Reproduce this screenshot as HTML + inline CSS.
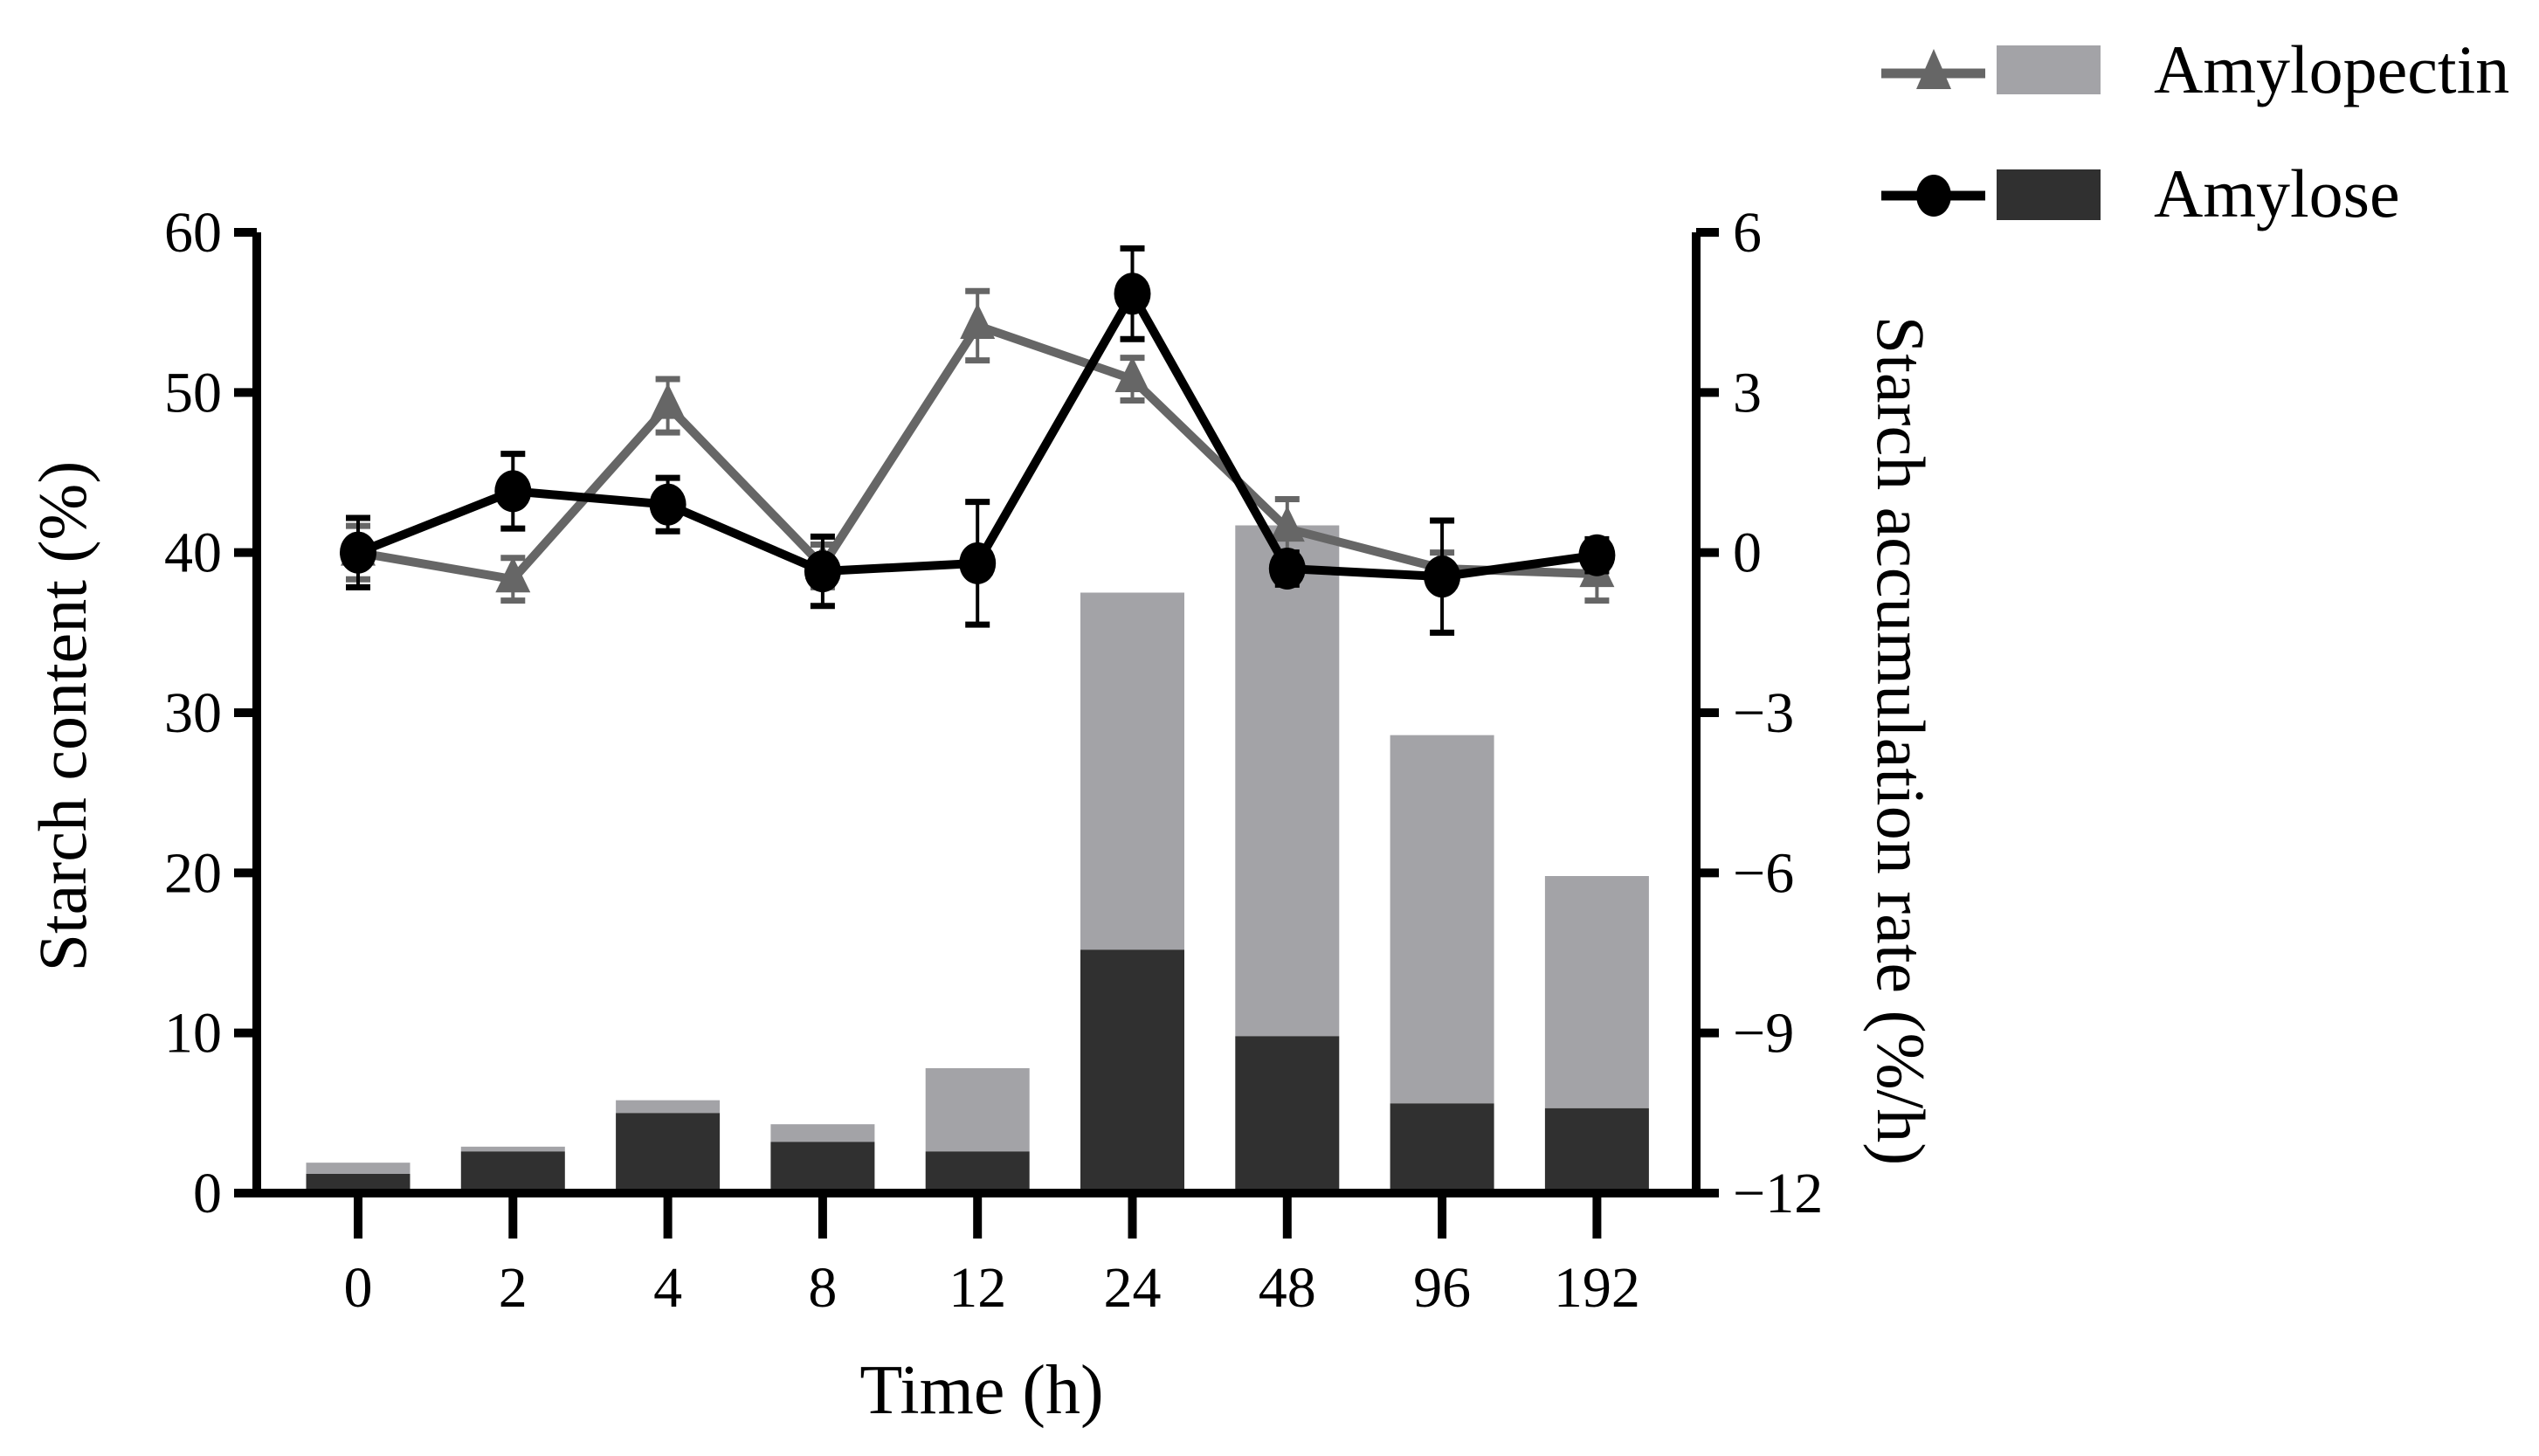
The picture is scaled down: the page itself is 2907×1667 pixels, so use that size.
<!DOCTYPE html>
<html><head><meta charset="utf-8"><style>
html,body{margin:0;padding:0;background:#fff;}
svg{display:block;}
text{font-family:"Liberation Serif",serif;fill:#000;}
</style></head><body>
<svg id="chart" xmlns="http://www.w3.org/2000/svg" width="2907" height="1667" viewBox="0 0 2907 1667"></svg>
<script>
const categories = ["0","2","4","8","12","24","48","96","192"];
const amyloseContent = [1.2, 2.6, 5.0, 3.2, 2.6, 15.2, 9.8, 5.6, 5.3];
const totalContent = [1.9, 2.9, 5.8, 4.3, 7.8, 37.5, 41.7, 28.6, 19.8];
const amylopectinRate = [0, -0.5, 2.75, -0.25, 4.25, 3.25, 0.45, -0.3, -0.4];
const amylopectinErr = [0.5, 0.4, 0.5, 0.4, 0.65, 0.4, 0.55, 0.3, 0.5];
const amyloseRate = [0, 1.15, 0.9, -0.35, -0.2, 4.85, -0.3, -0.45, -0.05];
const amyloseErr = [0.65, 0.7, 0.5, 0.65, 1.15, 0.85, 0.3, 1.05, 0.3];
const leftTicks = [0,10,20,30,40,50,60];
const rightTicks = [-12,-9,-6,-3,0,3,6];
const rightTickLabels = ["\u221212","\u22129","\u22126","\u22123","0","3","6"];

const svg = document.getElementById('chart');
const NS = 'http://www.w3.org/2000/svg';
const X0 = 294, X1 = 1942, YB = 1366, YT = 266;
const yL = v => YB - (v/60)*(YB-YT);
const yR = v => YB - ((v+12)/18)*(YB-YT);
const xC = i => 410 + i*177.3;
const BW = 119;
function mk(tag, attrs, parent){const e=document.createElementNS(NS,tag);for(const k in attrs)e.setAttribute(k,attrs[k]);(parent||svg).appendChild(e);return e;}

categories.forEach((c,i)=>{
  const b1 = mk('rect',{x:xC(i)-BW/2,y:yL(totalContent[i]),width:BW,height:yL(amyloseContent[i])-yL(totalContent[i]),fill:'#a3a3a7'});
  
  
  const b2 = mk('rect',{x:xC(i)-BW/2,y:yL(amyloseContent[i]),width:BW,height:YB-yL(amyloseContent[i]),fill:'#303030'});
  
  
});

const ax = mk('path',{d:`M${X0} ${YT}V${YB}H${X1}V${YT}`,fill:'none',stroke:'#000','stroke-width':10});


leftTicks.forEach(v=>{
  mk('line',{x1:X0-26,x2:X0,y1:yL(v),y2:yL(v),stroke:'#000','stroke-width':10});
  const t=mk('text',{x:X0-40,y:yL(v)+22,'text-anchor':'end','font-size':66});
  t.textContent=v;
  
  
});
rightTicks.forEach((v,i)=>{
  mk('line',{x1:X1,x2:X1+26,y1:yR(v),y2:yR(v),stroke:'#000','stroke-width':10});
  const t=mk('text',{x:X1+42,y:yR(v)+22,'text-anchor':'start','font-size':66});
  t.textContent=rightTickLabels[i];
  
  
});
categories.forEach((c,i)=>{
  mk('line',{x1:xC(i),x2:xC(i),y1:YB,y2:YB+52,stroke:'#000','stroke-width':10});
  const t=mk('text',{x:xC(i),y:1496,'text-anchor':'middle','font-size':66});
  t.textContent=c;
  
  
});

function series(vals, errs, color, width, marker, name){
  const g=mk('g',{});
  
  
  vals.forEach((v,i)=>{
    const cx=xC(i), y1=yR(v+errs[i]), y2=yR(v-errs[i]);
    mk('line',{x1:cx,x2:cx,y1:y1,y2:y2,stroke:color,'stroke-width':4},g);
    mk('line',{x1:cx-14,x2:cx+14,y1:y1,y2:y1,stroke:color,'stroke-width':7},g);
    mk('line',{x1:cx-14,x2:cx+14,y1:y2,y2:y2,stroke:color,'stroke-width':7},g);
  });
  mk('polyline',{points:vals.map((v,i)=>xC(i)+','+yR(v)).join(' '),fill:'none',stroke:color,'stroke-width':width,'stroke-linejoin':'round'},g);
  vals.forEach((v,i)=>{
    const cx=xC(i), cy=yR(v);
    let m;
    if(marker==='tri') m=mk('polygon',{points:`${cx},${cy-26} ${cx-20},${cy+15} ${cx+20},${cy+15}`,fill:color},g);
    else m=mk('ellipse',{cx:cx,cy:cy,rx:21,ry:24,fill:color},g);
    
    
  });
}
series(amylopectinRate, amylopectinErr, '#666666', 10, 'tri', 'amylopectin');
series(amyloseRate, amyloseErr, '#000000', 10, 'circ', 'amylose');
</script>
<svg style="position:absolute;left:0;top:0" width="2907" height="1667" viewBox="0 0 2907 1667">
<text x="1124" y="1618" text-anchor="middle" font-size="80">Time (h)</text>
<text transform="translate(98,820) rotate(-90)" text-anchor="middle" font-size="78">Starch content (%)</text>
<text transform="translate(2150,848) rotate(90)" text-anchor="middle" font-size="78">Starch accumulation rate (%/h)</text>
<g>
<line x1="2154" x2="2273" y1="84" y2="84" stroke="#666" stroke-width="11"/>
<polygon points="2214,56 2194,102 2234,102" fill="#666"/>
<rect x="2286" y="52" width="119" height="56" fill="#a3a3a7"/>
<text x="2466" y="106" font-size="78">Amylopectin</text>
</g>
<g>
<line x1="2154" x2="2273" y1="224" y2="224" stroke="#000" stroke-width="11"/>
<ellipse cx="2214" cy="224" rx="20" ry="24" fill="#000"/>
<rect x="2286" y="194" width="119" height="58" fill="#303030"/>
<text x="2466" y="248" font-size="78">Amylose</text>
</g>
</svg>
</body></html>
